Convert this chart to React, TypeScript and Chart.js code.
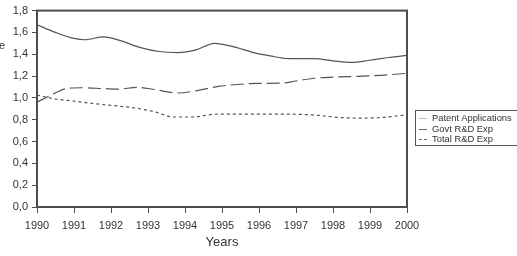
import React, { useEffect, useRef } from "react";
import { Chart, registerables } from "chart.js";

Chart.register(...registerables);

const yearTicks = [1990, 1991, 1992, 1993, 1994, 1995, 1996, 1997, 1998, 1999, 2000];

const patentX = [1990, 1990.5, 1991, 1991.3, 1991.8, 1992.3, 1992.8, 1993.3, 1993.8, 1994.3, 1994.8, 1995.3, 1995.8, 1996.3, 1996.8, 1997.5, 1998, 1998.5, 1999, 1999.5, 2000];
const patentY = [1.67, 1.6, 1.545, 1.533, 1.56, 1.52, 1.46, 1.425, 1.415, 1.44, 1.5, 1.47, 1.42, 1.385, 1.36, 1.36, 1.34, 1.325, 1.345, 1.37, 1.39];

const govtX = [1990, 1990.4, 1990.8, 1991.2, 1991.8, 1992.2, 1992.7, 1993.2, 1993.8, 1994.3, 1994.9, 1995.5, 1996, 1996.6, 1997, 1997.5, 1998, 1998.7, 1999.3, 2000];
const govtY = [0.96, 1.03, 1.085, 1.093, 1.085, 1.08, 1.097, 1.075, 1.045, 1.065, 1.105, 1.125, 1.133, 1.135, 1.155, 1.18, 1.19, 1.198, 1.207, 1.225];

const totalX = [1990, 1990.5, 1991, 1991.6, 1992.2, 1992.7, 1993.2, 1993.7, 1994.2, 1994.8, 1995.5, 1996.3, 1997, 1997.6, 1998.2, 1998.7, 1999.3, 2000];
const totalY = [1.025, 0.99, 0.97, 0.945, 0.925, 0.905, 0.87, 0.825, 0.825, 0.85, 0.852, 0.852, 0.85, 0.84, 0.82, 0.815, 0.82, 0.845];

const legendLabels = ["Patent Applications", "Govt R&D Exp", "Total R&D Exp"];

const FONT = "'Liberation Sans', Arial, Helvetica, sans-serif";
const AXIS = "#4d4d4d";

const toPts = (xs: number[], ys: number[]) => xs.map((x, i) => ({ x, y: ys[i] }));

const frame = {
  id: "frame",
  afterDraw(chart: any) {
    const { ctx, chartArea: a } = chart;
    ctx.save();
    ctx.strokeStyle = AXIS;
    ctx.lineWidth = 2;
    ctx.strokeRect(a.left, a.top, a.right - a.left, a.bottom - a.top);
    ctx.restore();
  },
};

export default function App() {
  const ref = useRef<HTMLCanvasElement>(null);
  useEffect(() => {
    if (!ref.current) return;
    const line = "#555555";
    const chart = new Chart(ref.current, {
      type: "line",
      data: {
        datasets: [
          { label: legendLabels[0], data: toPts(patentX, patentY), borderColor: line, borderWidth: 1.2, pointRadius: 0, tension: 0.4, cubicInterpolationMode: "monotone" },
          { label: legendLabels[1], data: toPts(govtX, govtY), borderColor: line, borderWidth: 1.2, borderDash: [13, 5], pointRadius: 0, tension: 0.4, cubicInterpolationMode: "monotone" },
          { label: legendLabels[2], data: toPts(totalX, totalY), borderColor: line, borderWidth: 1.2, borderDash: [3, 3], pointRadius: 0, tension: 0.4, cubicInterpolationMode: "monotone" },
        ],
      } as any,
      options: {
        animation: false,
        responsive: false,
        layout: { padding: { top: 7, right: 110, left: 0, bottom: 0 } },
        plugins: { legend: { display: false }, tooltip: { enabled: false } },
        scales: {
          x: {
            type: "linear",
            min: 1990,
            max: 2000,
            afterBuildTicks: (s: any) => { s.ticks = yearTicks.map((v) => ({ value: v })); },
            afterFit: (s: any) => { s.height = 49; },
            ticks: { color: "#333", font: { family: FONT, size: 11 }, padding: 6, maxRotation: 0, callback: (v: any) => String(v) },
            grid: { drawOnChartArea: false, tickLength: 6, color: AXIS, lineWidth: 1 },
            border: { color: AXIS, width: 2 },
            title: { display: true, text: "Years", color: "#333", font: { family: FONT, size: 13 }, padding: { top: 2, bottom: 6 } },
          },
          y: {
            min: 0,
            max: 1.8,
            afterBuildTicks: (s: any) => { s.ticks = [0, 0.2, 0.4, 0.6, 0.8, 1.0, 1.2, 1.4, 1.6, 1.8].map((v) => ({ value: v })); },
            afterFit: (s: any) => { s.width = 37; },
            ticks: { color: "#333", font: { family: FONT, size: 11 }, padding: 4, callback: (v: any) => Number(v).toFixed(1).replace(".", ",") },
            grid: { drawOnChartArea: false, tickLength: 5, color: AXIS, lineWidth: 1 },
            border: { color: AXIS, width: 2 },
          },
        },
      } as any,
      plugins: [frame],
    });
    return () => chart.destroy();
  }, []);

  const sample = (style: React.CSSProperties) => (
    <span style={{ display: "inline-block", width: 8, marginRight: 5, verticalAlign: "middle", ...style }} />
  );

  return (
    <div style={{ position: "absolute", left: 0, top: 0, width: 517, height: 256, overflow: "hidden", background: "#fff", fontFamily: FONT }}>
      <canvas ref={ref} width={517} height={256} style={{ display: "block" }} />
      <span style={{ position: "absolute", left: -1, top: 39, fontSize: 11, color: "#333" }}>e</span>
      <div style={{ position: "absolute", left: 415, top: 110, width: 105, height: 36, border: "1px solid #555", boxSizing: "border-box", padding: "2px 0 0 3px", fontSize: 9.4, lineHeight: "10.5px", color: "#333", whiteSpace: "nowrap" }}>
        <div>{sample({ borderTop: "1px solid #bbb" })}{legendLabels[0]}</div>
        <div>{sample({ borderTop: "1px solid #666" })}{legendLabels[1]}</div>
        <div>{sample({ borderTop: "1px dashed #666" })}{legendLabels[2]}</div>
      </div>
    </div>
  );
}
